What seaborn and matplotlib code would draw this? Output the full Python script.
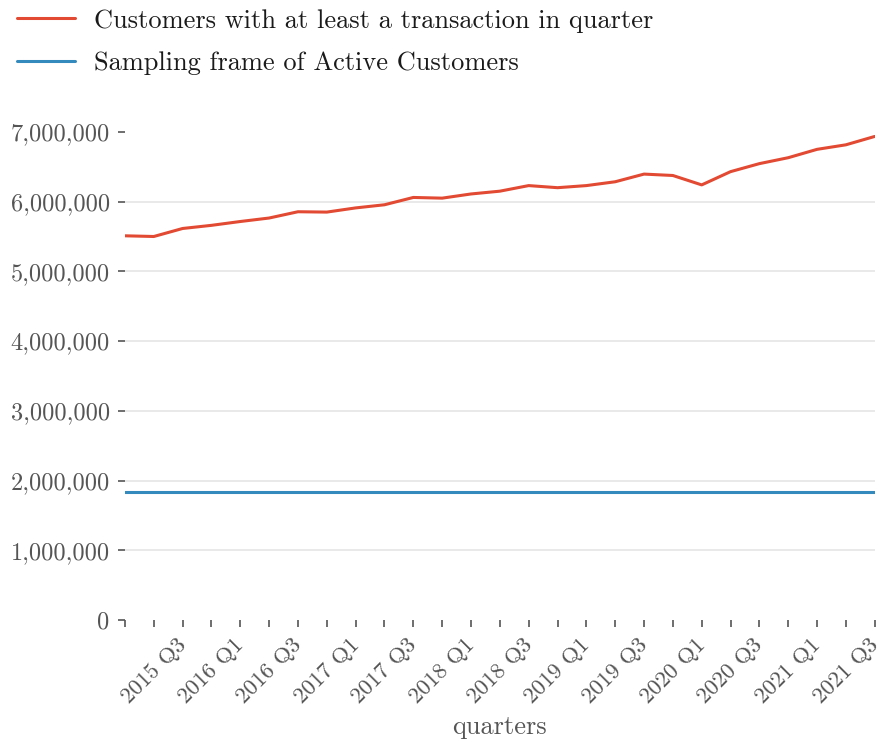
import matplotlib
matplotlib.use("Agg")
import matplotlib.pyplot as plt
import matplotlib.ticker as mticker
import pandas as pd
import seaborn as sns

quarters = [
    "2015 Q2", "2015 Q3", "2015 Q4",
    "2016 Q1", "2016 Q2", "2016 Q3", "2016 Q4",
    "2017 Q1", "2017 Q2", "2017 Q3", "2017 Q4",
    "2018 Q1", "2018 Q2", "2018 Q3", "2018 Q4",
    "2019 Q1", "2019 Q2", "2019 Q3", "2019 Q4",
    "2020 Q1", "2020 Q2", "2020 Q3", "2020 Q4",
    "2021 Q1", "2021 Q2", "2021 Q3", "2021 Q4",
]
active_customers = [
    5510000, 5500000, 5615000, 5660000, 5715000, 5765000, 5855000,
    5850000, 5910000, 5955000, 6060000, 6050000, 6110000, 6150000,
    6230000, 6200000, 6230000, 6285000, 6395000, 6375000, 6240000,
    6430000, 6545000, 6630000, 6750000, 6815000, 6935000,
]
sampling_frame = [1840000] * len(quarters)

series_names = [
    "Customers with at least a transaction in quarter",
    "Sampling frame of Active Customers",
]
colors = ["#E24A33", "#348ABD"]

df = pd.DataFrame({
    "idx": list(range(len(quarters))) * 2,
    "value": active_customers + sampling_frame,
    "series": [series_names[0]] * len(quarters) + [series_names[1]] * len(quarters),
})

sns.set_theme(style="white")
plt.rcParams["font.family"] = ["cmr10", "DejaVu Serif"]
plt.rcParams["axes.formatter.use_mathtext"] = True

fig = plt.figure(figsize=(8.8, 7.44), dpi=100)
ax = fig.add_axes([0.142, 0.1667, 0.852, 0.656])

sns.lineplot(data=df, x="idx", y="value", hue="series",
             palette=colors, hue_order=series_names,
             linewidth=2.2, ax=ax, legend=True)

ax.set_xlim(0, len(quarters) - 1)
ax.set_ylim(0, 7_000_000)
ax.yaxis.set_major_locator(mticker.MultipleLocator(1_000_000))
ax.yaxis.set_major_formatter(mticker.FuncFormatter(lambda v, p: f"{int(v):,}"))

# every quarter gets a tick, every other one a label (Q3 and Q1)
ax.set_xticks(range(len(quarters)))
ax.set_xticklabels([q if i % 2 == 1 else "" for i, q in enumerate(quarters)],
                   rotation=45, ha="center")

for s in ax.spines.values():
    s.set_visible(False)

ax.grid(axis="y", color="#e5e5e5", linewidth=1.2)
ax.grid(axis="x", visible=False)
ax.set_axisbelow(True)

ax.tick_params(axis="both", which="major", length=5, width=1.2, color="#555555",
               labelsize=17.5, labelcolor="#555555", direction="out",
               bottom=True, left=True)
ax.tick_params(axis="x", pad=6, labelsize=16.5)
ax.tick_params(axis="y", pad=6)

ax.set_xlabel("quarters", fontsize=19, color="#555555", labelpad=6)
ax.set_ylabel("")

handles, labels = ax.get_legend_handles_labels()
ax.legend(handles, labels, loc="upper left", bbox_to_anchor=(0.019, 0.988),
          bbox_transform=fig.transFigure, frameon=False, fontsize=19,
          handlelength=2.2, labelspacing=0.7, borderaxespad=0.0,
          borderpad=0.0, handletextpad=0.72)
for t in ax.get_legend().get_texts():
    t.set_color("#1a1a1a")

# no gridline on the axis limits themselves
fig.canvas.draw()
ymin, ymax = ax.get_ylim()
for tick in ax.yaxis.get_major_ticks():
    loc = tick.get_loc()
    if loc <= ymin or loc >= ymax:
        tick.gridline.set_visible(False)

fig.savefig("out.png", dpi=100)
